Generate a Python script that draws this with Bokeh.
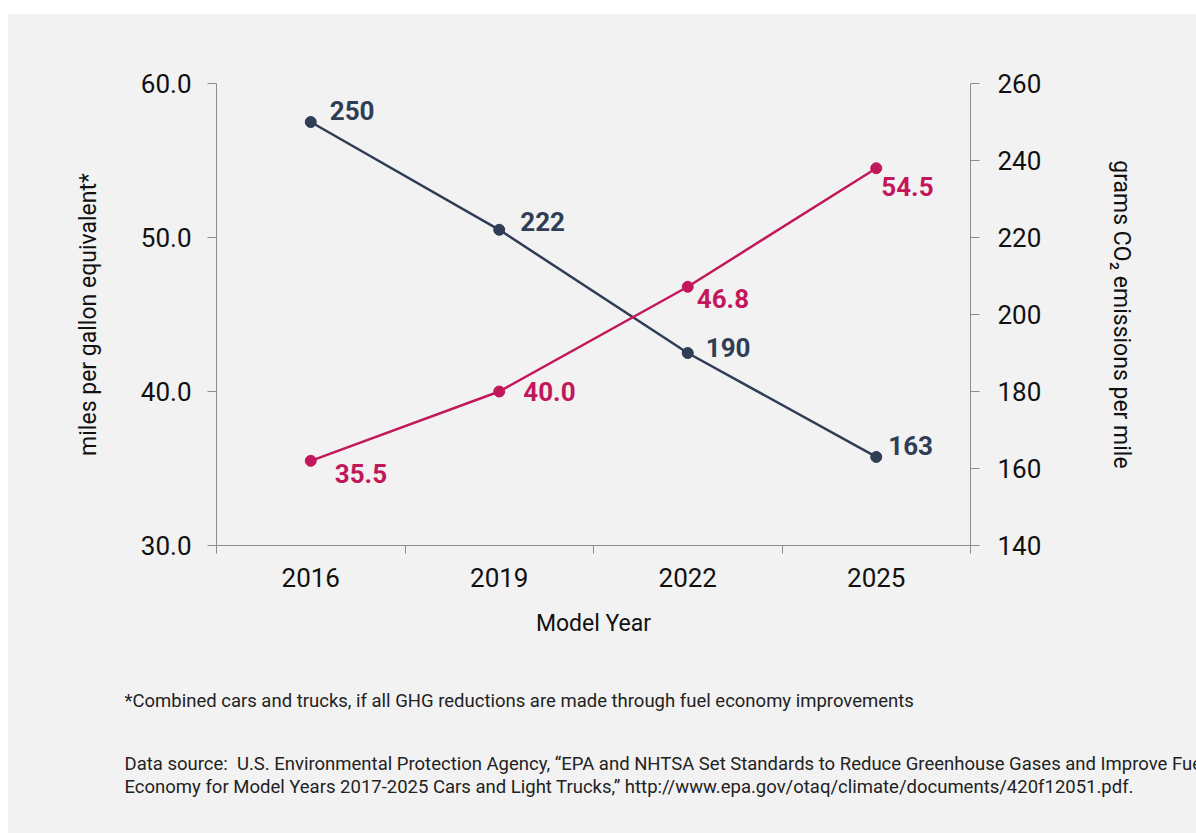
from bokeh.plotting import figure
from bokeh.models import Range1d, LinearAxis, FixedTicker, ColumnDataSource, Title, Spacer
from bokeh.layouts import column, row
from bokeh.core.properties import value
from bokeh.embed import file_html
from bokeh.resources import INLINE

years = ["2016", "2019", "2022", "2025"]
mpg = [35.5, 40.0, 46.8, 54.5]
co2 = [250, 222, 190, 163]
mpg_labels = ["35.5", "40.0", "46.8", "54.5"]
co2_labels = ["250", "222", "190", "163"]
left_ticks = [30, 40, 50, 60]
right_ticks = [140, 160, 180, 200, 220, 240, 260]

NAVY = "#2f3d55"
RED = "#c2185b"
BG = "#f2f2f2"
AX = "#8c8c8c"
FONT = "Roboto"

xs = [i + 0.5 for i in range(len(years))]

p = figure(width=1189, height=820, output_backend="svg", toolbar_location=None,
           x_range=Range1d(0, len(years)), y_range=Range1d(30, 60),
           min_border_left=209, min_border_right=226, min_border_top=70, min_border_bottom=288)
p.background_fill_color = BG
p.border_fill_color = BG
p.outline_line_color = None
p.xgrid.visible = False
p.ygrid.visible = False
p.extra_y_ranges = {"co2": Range1d(140, 260)}

# bottom axis
xa = p.xaxis[0]
xa.ticker = FixedTicker(ticks=xs, minor_ticks=list(range(len(years) + 1)))
xa.major_label_overrides = {x: y for x, y in zip(xs, years)}
xa.major_tick_line_color = None
xa.major_tick_out = 0
xa.major_tick_in = 0
xa.minor_tick_out = 8
xa.minor_tick_in = 0
xa.minor_tick_line_color = AX
xa.axis_line_color = AX
xa.axis_label = "Model Year"

# left axis
ya = p.yaxis[0]
ya.ticker = FixedTicker(ticks=left_ticks)
ya.major_label_overrides = {t: f"{t:.1f}" for t in left_ticks}
ya.axis_label = "miles per gallon equivalent*"
ya.minor_tick_line_color = None

ry = LinearAxis(y_range_name="co2", ticker=FixedTicker(ticks=right_ticks),
                axis_label="grams CO\u2082 emissions per mile")
p.add_layout(ry, "right")
ry.minor_tick_line_color = None

for ax in [ya, ry]:
    ax.major_tick_out = 9
    ax.major_tick_in = 0
    ax.major_tick_line_color = AX
    ax.axis_line_color = AX

for ax in [xa, ya, ry]:
    ax.major_label_text_font = FONT
    ax.major_label_text_font_size = "26px"
    ax.major_label_text_color = "#111111"
    ax.axis_label_text_font = FONT
    ax.axis_label_text_font_size = "23px"
    ax.axis_label_text_font_style = "normal"
    ax.axis_label_text_color = "#111111"

xa.major_label_standoff = 14
xa.axis_label_standoff = 20
ya.major_label_standoff = 16
ya.axis_label_standoff = 36
ry.major_label_standoff = 18
ry.axis_label_standoff = 64

# series
p.line(xs, co2, y_range_name="co2", line_color=NAVY, line_width=2.5)
p.scatter(xs, co2, y_range_name="co2", size=11, fill_color=NAVY, line_color=NAVY)
p.line(xs, mpg, line_color=RED, line_width=2.5)
p.scatter(xs, mpg, size=11, fill_color=RED, line_color=RED)

co2_dx = [19, 21, 18, 12]
co2_dy = [-12, -8, -6, -11]
mpg_dx = [24, 24, 9, 5]
mpg_dy = [13, 0, 12, 18]

src_c = ColumnDataSource(dict(x=xs, y=co2, t=co2_labels, dx=co2_dx, dy=co2_dy))
src_m = ColumnDataSource(dict(x=xs, y=mpg, t=mpg_labels, dx=mpg_dx, dy=mpg_dy))
p.text(x="x", y="y", text="t", x_offset="dx", y_offset="dy", source=src_c, y_range_name="co2",
       text_font=value(FONT), text_font_style="bold", text_font_size="26px",
       text_color=NAVY, text_baseline="middle", text_align="left")
p.text(x="x", y="y", text="t", x_offset="dx", y_offset="dy", source=src_m,
       text_font=value(FONT), text_font_style="bold", text_font_size="26px",
       text_color=RED, text_baseline="middle", text_align="left")

notes = [
    "*Combined cars and trucks, if all GHG reductions are made through fuel economy improvements",
    "Data source:\u00a0 U.S. Environmental Protection Agency, \u201cEPA and NHTSA Set Standards to Reduce Greenhouse Gases and Improve Fuel",
    "Economy for Model Years 2017-2025 Cars and Light Trucks,\u201d http://www.epa.gov/otaq/climate/documents/420f12051.pdf.",
]
note_gaps = [97, -29, 27]
for txt, gap in zip(notes, note_gaps):
    p.add_layout(Title(text=txt, align="left", offset=-92, standoff=gap,
                       text_font=FONT, text_font_size="18.5px", text_font_style="normal",
                       text_color="#222222"), "below")

layout = column(Spacer(height=13, width=1196), row(Spacer(width=7, height=820), p))
open("out.html", "w").write(file_html(layout, INLINE))
